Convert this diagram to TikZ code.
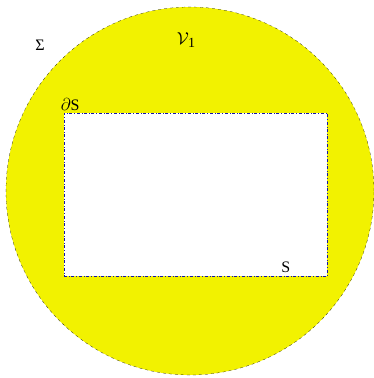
\documentclass[tikz,border=0pt]{standalone}
\usepackage{amsmath}
\usepackage{fontspec}
\setmainfont{Liberation Serif}
\usepackage{xcolor}
\usetikzlibrary{positioning}
\definecolor{regionyellow}{RGB}{242,242,0}
\definecolor{edgeblue}{RGB}{20,20,170}
\tikzset{
    region/.style={circle, draw=black, dashed, very thin, fill=regionyellow, minimum size=368pt, inner sep=0pt},
    hole/.style={rectangle, draw=edgeblue, dash dot, thick, fill=white, minimum width=263pt, minimum height=163pt, inner sep=0pt},
    lbl/.style={font=\fontsize{16}{19}\selectfont, inner sep=1pt}
}
\begin{document}
\begin{tikzpicture}[x=1pt, y=-1pt]
  \useasboundingbox (0,0) rectangle (374,378);
  \node[region] (vol) at (190,191) {};
  \node[hole] (surf) at (195.5,194.5) {};
  \node[lbl] (sigma) at (40,45) {Σ};
  \node[lbl] (vone) at (186,40) {$\mathcal{V}$\kern-1pt\raisebox{-3pt}{\fontsize{14}{16}\selectfont 1}};
  \node[lbl, above right=1pt and -4pt of surf.north west] (bdry) {$\partial$S};
  \node[lbl, above left=3pt and 36pt of surf.south east] (sname) {S};
\end{tikzpicture}
\end{document}
